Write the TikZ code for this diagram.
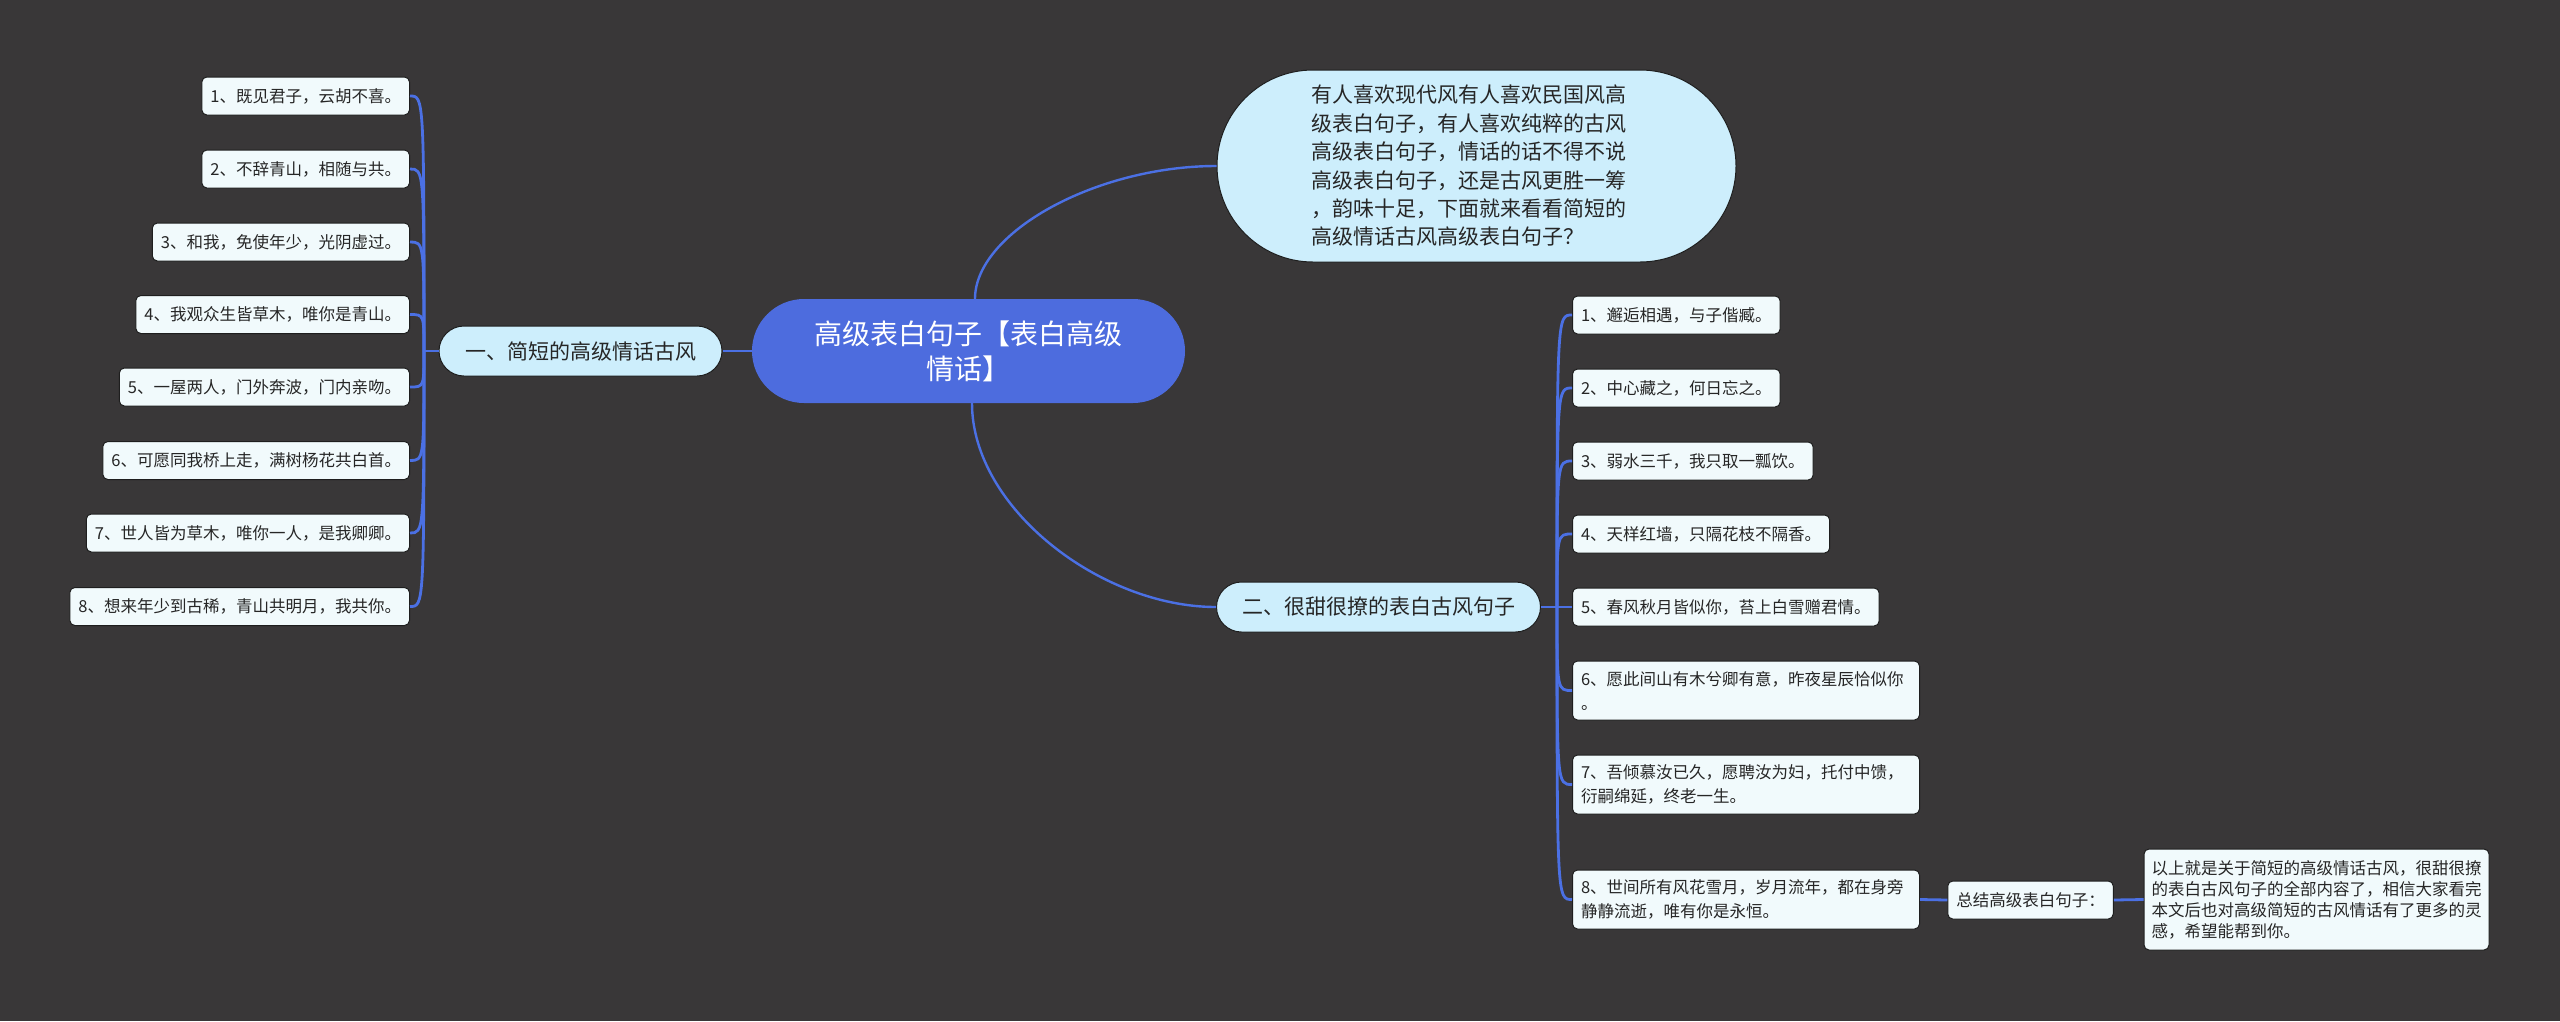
\documentclass[tikz,border=0pt]{standalone}
\usepackage{fontspec}
\setmainfont{Noto Sans CJK SC}
\definecolor{bgc}{HTML}{393738}
\definecolor{linec}{HTML}{4B70E4}
\definecolor{rootc}{HTML}{4D6CDE}
\definecolor{topicc}{HTML}{CDEEFC}
\definecolor{leafc}{HTML}{F1FAFC}
\definecolor{edgec}{HTML}{1E1E1E}
\tikzset{
  conn/.style={draw=linec, line width=2.8pt},
  leaf/.style={draw=edgec, line width=1pt, fill=leafc, rounded corners=5pt, text=black!85,
    font=\fontsize{16.5}{24}\selectfont, inner xsep=8.5pt, inner ysep=0pt, minimum height=38pt},
  leafw/.style={leaf, text width=330pt, align=left, minimum height=59pt},
  topic/.style={draw=edgec, line width=1pt, fill=topicc, rounded corners=25pt, text=black!85,
    font=\fontsize{21}{28}\selectfont, minimum height=50pt, inner xsep=0pt, inner ysep=0pt},
  rootn/.style={fill=rootc, rounded corners=52pt, text=white, align=center,
    font=\fontsize{28}{35}\selectfont, minimum width=433pt, minimum height=104pt, inner sep=0pt},
}
\begin{document}
\begin{tikzpicture}[x=1pt, y=-1pt]
\fill[bgc] (0,0) rectangle (2560,1021);
\useasboundingbox (0,0) rectangle (2560,1021);

% root
\node[rootn] (c) at (968.5,351) {高级表白句子【表白高级\\情话】};

% bubble
\node[draw=edgec, line width=1pt, fill=topicc, rounded corners=96pt, minimum width=519pt, minimum height=192pt,
  text=black!85, align=left, font=\fontsize{21}{28.4}\selectfont, inner sep=0pt] (b) at (1476.5,166)
  {有人喜欢现代风有人喜欢民国风高\hspace*{16pt}\\级表白句子，有人喜欢纯粹的古风\\高级表白句子，情话的话不得不说\\高级表白句子，还是古风更胜一筹\\，韵味十足，下面就来看看简短的\\高级情话古风高级表白句子？};

% topics
\node[topic, minimum width=283pt] (t1) at (580.5,351) {一、简短的高级情话古风};
\node[topic, minimum width=324pt] (t2) at (1378.5,607) {二、很甜很撩的表白古风句子};

% left leaves
\node[leaf, anchor=east] (l1) at (410,96) {1、既见君子，云胡不喜。};
\node[leaf, anchor=east] (l2) at (410,169) {2、不辞青山，相随与共。};
\node[leaf, anchor=east] (l3) at (410,242) {3、和我，免使年少，光阴虚过。};
\node[leaf, anchor=east] (l4) at (410,314.5) {4、我观众生皆草木，唯你是青山。};
\node[leaf, anchor=east] (l5) at (410,387) {5、一屋两人，门外奔波，门内亲吻。};
\node[leaf, anchor=east] (l6) at (410,460.5) {6、可愿同我桥上走，满树杨花共白首。};
\node[leaf, anchor=east] (l7) at (410,533) {7、世人皆为草木，唯你一人，是我卿卿。};
\node[leaf, anchor=east] (l8) at (410,606.5) {8、想来年少到古稀，青山共明月，我共你。};

% right leaves
\node[leaf, anchor=west] (r1) at (1572,315) {1、邂逅相遇，与子偕臧。};
\node[leaf, anchor=west] (r2) at (1572,388) {2、中心藏之，何日忘之。};
\node[leaf, anchor=west] (r3) at (1572,461) {3、弱水三千，我只取一瓢饮。};
\node[leaf, anchor=west] (r4) at (1572,534) {4、天样红墙，只隔花枝不隔香。};
\node[leaf, anchor=west] (r5) at (1572,607) {5、春风秋月皆似你，苔上白雪赠君情。};
\node[leafw, anchor=west] (r6) at (1572,690.5) {6、愿此间山有木兮卿有意，昨夜星辰恰似你\\。};
\node[leafw, anchor=west] (r7) at (1572,784.5) {7、吾倾慕汝已久，愿聘汝为妇，托付中馈，\\衍嗣绵延，终老一生。};
\node[leafw, anchor=west] (r8) at (1572,899.5) {8、世间所有风花雪月，岁月流年，都在身旁\\静静流逝，唯有你是永恒。};

% summary
\node[leaf] (s) at (2030.5,900) {总结高级表白句子：};
\node[leaf, text width=330pt, align=left, inner xsep=7.5pt, minimum height=101pt,
  font=\fontsize{16.5}{21}\selectfont] (f) at (2316.5,899.5)
  {以上就是关于简短的高级情话古风，很甜很撩\\的表白古风句子的全部内容了，相信大家看完\\本文后也对高级简短的古风情话有了更多的灵\\感，希望能帮到你。};

% junctions
\coordinate (J1) at (424,351);
\coordinate (J2) at (1557,607);

% connectors
\draw[conn] (t1.west) -- (J1);
\foreach \n in {l1,l2,l3,l4,l5,l6,l7,l8}{
  \draw[conn] (J1) .. controls (J1 |- \n.east) .. (\n.east);
}
\draw[conn] (t2.east) -- (J2);
\foreach \n in {r1,r2,r3,r4,r5,r6,r7,r8}{
  \draw[conn] (J2) .. controls (J2 |- \n.west) .. (\n.west);
}
\draw[conn] (t1.east) -- (c.west);
\draw[conn, line width=2.4pt] ([xshift=6.5pt]c.north) .. controls +(0,-66) and +(-121,0) .. (b.west);
\draw[conn, line width=2.4pt] ([xshift=3.5pt]c.south) .. controls +(0,105) and +(-115,0) .. (t2.west);
\draw[conn] (r8.east) -- (s.west);
\draw[conn] (s.east) -- (f.west);
\end{tikzpicture}
\end{document}
